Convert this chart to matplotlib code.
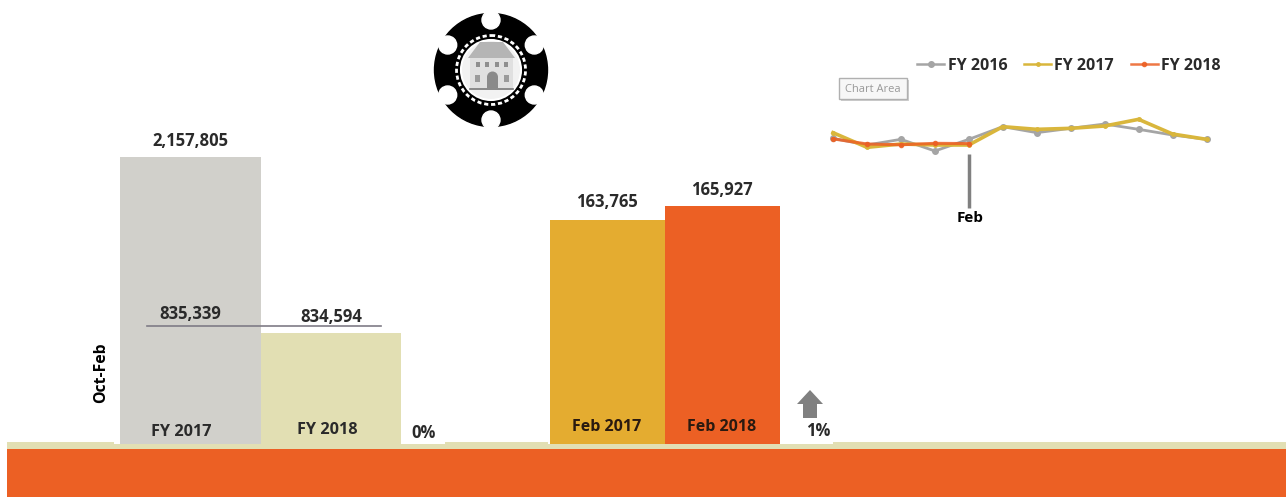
#!/usr/bin/python3
import numpy as np
from matplotlib import pyplot as plt
from matplotlib.patches import Circle, Polygon, Rectangle

W, H = 1286, 497

## year to date bars
ytd_labels = ['FY 2017', 'FY 2018']
ytd_values = [2157805, 834594]
ytd_prior = [835339]
ytd_change = '0%'

## month bars
month_labels = ['Feb 2017', 'Feb 2018']
month_values = [163765, 165927]
month_change = '1%'

## monthly lines, Oct to Sep
months = ['Oct', 'Nov', 'Dec', 'Jan', 'Feb', 'Mar', 'Apr', 'May', 'Jun', 'Jul', 'Aug', 'Sep']
fy2016 = [173765, 163765, 172265, 154765, 172265, 191265, 182265, 188765, 195265, 187265, 178765, 172265]
fy2017 = [182279, 160265, 165265, 163765, 163765, 191265, 187265, 188765, 192265, 202265, 180265, 172265]
fy2018 = [173000, 165265, 164100, 166265, 165927]

GREY_BAR = '#D1D0CB'
BEIGE = '#E2DFB3'
YELLOW = '#E4AC30'
ORANGE = '#EC6024'
FONT = 'Open Sans'
TXT = '#2A2A2A'

plt.rcParams['font.family'] = [FONT, 'DejaVu Sans']
plt.rcParams['font.weight'] = 'bold'


def px_axes(fig, x0, y0, x1, y1, zorder=1):
    ## axes placed by picture pixels, y counted from the top
    ax = fig.add_axes([x0 / W, 1 - y1 / H, (x1 - x0) / W, (y1 - y0) / H], zorder=zorder)
    ax.axis('off')
    ax.patch.set_alpha(0)
    return ax


def draw_logo(bg):
    cx, cy = 491, 70
    bg.add_patch(Circle((cx, cy), 56.5, color='black', zorder=3))
    ## white notches round the edge of the chip
    for ang in [90, 30, 150, 210, 270, 330]:
        a = np.radians(ang)
        bg.add_patch(Circle((cx + 50 * np.cos(a), cy - 50 * np.sin(a)), 9, color='white', zorder=4))
    bg.add_patch(Circle((cx, cy), 34.5, fc='none', ec='white', lw=2, ls=(0, (1.5, 1)), zorder=4))
    bg.add_patch(Circle((cx, cy), 30, fc='#F2F2F2', ec='white', lw=1.5, zorder=4))
    ## the house in the middle
    bg.add_patch(Polygon([[468, 58], [480, 42], [503, 42], [515, 58]], color='#B5B5B5', lw=0, zorder=5))
    bg.add_patch(Rectangle((470, 58), 43, 30, color='#E0E0E0', lw=0, zorder=5))
    for x in [478, 487, 497, 506]:
        bg.add_patch(Rectangle((x - 2, 62), 4, 5, color='#8E8E8E', lw=0, zorder=6))
    for x in [478, 507]:
        bg.add_patch(Rectangle((x - 3, 75), 5, 7, color='#9A9A9A', lw=0, zorder=6))
    bg.add_patch(Rectangle((487, 77), 11, 11, color='#8A8A8A', lw=0, zorder=6))
    bg.add_patch(Circle((492.5, 77), 5.5, color='#8A8A8A', lw=0, zorder=6))
    bg.plot([470, 513], [88.5, 88.5], color='#777777', lw=1.2, zorder=6)


def main():
    fig = plt.figure(figsize=(W / 100, H / 100), dpi=100, facecolor='white')

    ## layers in pixels, one under the charts and one over them
    bg = px_axes(fig, 0, 0, W, H, zorder=0)
    top = px_axes(fig, 0, 0, W, H, zorder=5)
    for ax in [bg, top]:
        ax.set_xlim(0, W)
        ax.set_ylim(H, 0)

    bg.add_patch(Rectangle((7, 442), W - 7, 7, color=BEIGE, lw=0))
    bg.add_patch(Rectangle((7, 449), W - 7, 48, color=ORANGE, lw=0))
    bg.add_patch(Rectangle((114, 440), 331, 4, color='white', lw=0))
    bg.add_patch(Rectangle((548, 440), 285, 4, color='white', lw=0))
    draw_logo(bg)

    ## Chart Area tip left over in the picture
    bg.add_patch(Rectangle((841, 80), 68, 21, fc='#CFCFCF', ec='none', zorder=2))
    bg.add_patch(Rectangle((839, 78), 68, 21, fc='#F7F7F7', ec='#B0B0B0', lw=1, zorder=3))
    bg.text(873, 89, 'Chart Area', ha='center', va='center', fontsize=8, color='#999999',
            fontweight='normal', zorder=4)

    ## year to date bars
    ax1 = px_axes(fig, 120, 157, 401, 444)
    x1 = np.arange(len(ytd_values))
    ax1.bar(x1, ytd_values, width=1.0, color=[GREY_BAR, BEIGE])
    ax1.set_xlim(-0.5, 1.5)
    ax1.set_ylim(0, ytd_values[0])

    ## month bars, baseline is cut like the original
    ax2 = px_axes(fig, 550, 206, 780, 444)
    x2 = np.arange(len(month_values))
    ax2.bar(x2, month_values, width=1.0, color=[YELLOW, ORANGE])
    ax2.set_xlim(-0.5, 1.5)
    ax2.set_ylim(129170, month_values[1])

    ## lines
    ax3 = px_axes(fig, 833, 100, 1206.5, 210)
    x3 = np.arange(len(months))
    ax3.plot(x3, fy2016, color='#A5A5A5', lw=2, marker='o', ms=4, label='FY 2016', clip_on=False)
    ax3.plot(x3, fy2017, color='#D9B63C', lw=2.6, marker='o', ms=2.5, label='FY 2017', clip_on=False)
    ax3.plot(x3[:len(fy2018)], fy2018, color=ORANGE, lw=2.2, marker='o', ms=3, alpha=0.85,
             label='FY 2018', clip_on=False)
    ax3.set_xlim(0, 11)
    ax3.set_ylim(66265, 231265)
    ax3.vlines(x3[4], 69265, 150265, color='#808080', lw=2.5)
    leg = ax3.legend(loc='center', bbox_to_anchor=(236 / 373.5, 34.5 / 110 + 1), ncols=3, frameon=False,
                     fontsize=11.5, labelcolor=TXT, handlelength=1.7, handletextpad=0.2, columnspacing=1.05,
                     borderaxespad=0, borderpad=0)
    for line in leg.get_lines():
        line.set_linewidth(1.8)

    ## all the text over the bars
    top.text(101, 373, 'Oct-Feb', rotation=90, ha='center', va='center', fontsize=11.3, color='black')
    top.plot([147, 381], [326, 326], color='#7F7B86', lw=1.2)
    top.text(190, 141.5, f'{ytd_values[0]:,}', ha='center', va='center', fontsize=12, color=TXT)
    top.text(190, 314, f'{ytd_prior[0]:,}', ha='center', va='center', fontsize=12, color=TXT)
    top.text(331, 316.5, f'{ytd_values[1]:,}', ha='center', va='center', fontsize=12, color=TXT)
    top.text(181, 432, ytd_labels[0], ha='center', va='center', fontsize=11.7, color=TXT)
    top.text(327, 430, ytd_labels[1], ha='center', va='center', fontsize=11.7, color=TXT)
    top.text(424, 433, ytd_change, ha='center', va='center', fontsize=12, color=TXT)

    top.text(607, 202, f'{month_values[0]:,}', ha='center', va='center', fontsize=12, color=TXT)
    top.text(722, 190, f'{month_values[1]:,}', ha='center', va='center', fontsize=12, color=TXT)
    top.text(607, 427, month_labels[0], ha='center', va='center', fontsize=11.5, color='#2A1A10')
    top.text(722, 427, month_labels[1], ha='center', va='center', fontsize=11.5, color='#2A1A10')
    top.text(818, 431, month_change, ha='center', va='center', fontsize=12, color=TXT)
    top.add_patch(Polygon([[797, 404], [810, 390], [823, 404], [817, 404], [817, 418], [803, 418], [803, 404]],
                          color='#808080', lw=0))
    top.text(970, 218, months[4], ha='center', va='center', fontsize=11, color='black')

    fig.savefig('out.png', dpi=100)


if __name__ == '__main__':
    main()
